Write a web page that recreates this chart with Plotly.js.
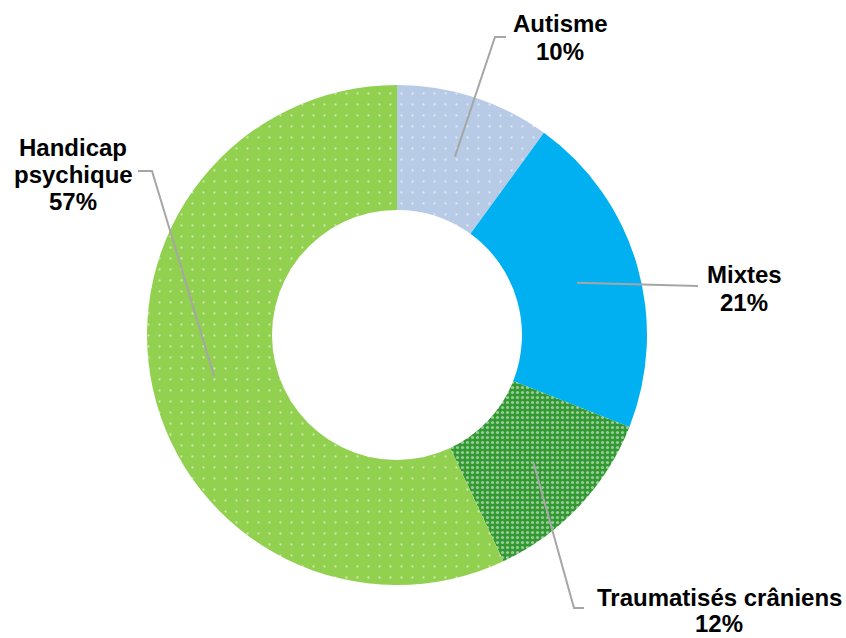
<!DOCTYPE html>
<html><head><meta charset="utf-8">
<script src="https://cdn.plot.ly/plotly-3.0.1.min.js"></script>
<style>html,body{margin:0;padding:0;background:#fff}#chart{width:846px;height:638px}</style>
</head><body><div id="chart"></div>
<script>
// Data
const categories = ["Autisme", "Mixtes", "Traumatisés crâniens", "Handicap psychique"];
const values = [10, 21, 12, 57];
const labelLines = [["Autisme", "10%"], ["Mixtes", "21%"], ["Traumatisés crâniens", "12%"], ["Handicap", "psychique", "57%"]];

// Styles / layout
const colors = ["#B7CBE6", "#00B0F0", "#339933", "#92D050"];
const W = 846, H = 638;
const cx = 397, cy = 335, R = 250;
// label placement (pixel): center x, first line y, line spacing
const labelPos = [
  {x: 560, y: 24, dy: 28},
  {x: 744, y: 274, dy: 28},
  {x: 719, y: 597, dy: 26},
  {x: 73, y: 147, dy: 27}
];
// leader elbow and end (pixel)
const leaders = [
  {ex: 495, ey: 37, tx: 506, ty: 37},
  {ex: 698, ey: 286, tx: 698, ty: 286},
  {ex: 574, ey: 608, tx: 584, ty: 608},
  {ex: 152, ey: 171, tx: 138, ty: 171}
];

const px = x => x / W, py = y => 1 - y / H;

const total = values.reduce((a, b) => a + b, 0);
const shapes = [], annotations = [];
let cum = 0;
values.forEach((v, i) => {
  const mid = (cum + v / 2) / total * 2 * Math.PI;
  cum += v;
  const sx = cx + 0.75 * R * Math.sin(mid);
  const sy = cy - 0.75 * R * Math.cos(mid);
  const L = leaders[i];
  shapes.push({
    type: "path", xref: "paper", yref: "paper",
    path: `M ${px(sx)},${py(sy)} L ${px(L.ex)},${py(L.ey)} L ${px(L.tx)},${py(L.ty)}`,
    line: {color: "#A6A6A6", width: 2}
  });
  labelLines[i].forEach((t, j) => {
    annotations.push({
      text: "<b>" + t + "</b>", xref: "paper", yref: "paper",
      x: px(labelPos[i].x), y: py(labelPos[i].y + j * labelPos[i].dy),
      xanchor: "center", yanchor: "middle", showarrow: false,
      font: {family: "Liberation Sans, Arial, sans-serif", size: 24, color: "#000000"}
    });
  });
});

const trace = {
  type: "pie",
  labels: categories,
  values: values,
  sort: false,
  direction: "clockwise",
  rotation: 0,
  hole: 0.5,
  textinfo: "none",
  hoverinfo: "label+percent",
  marker: {
    colors: colors,
    line: {width: 0},
    pattern: {
      shape: [".", "", ".", "."],
      fgcolor: ["#FFFFFF", "#FFFFFF", "#FFFFFF", "#FFFFFF"],
      size: [11, 11, 5, 11],
      solidity: [0.035, 0.035, 0.3, 0.035],
      fillmode: "overlay"
    }
  },
  domain: {x: [px(cx - R), px(cx + R)], y: [py(cy + R), py(cy - R)]}
};

Plotly.newPlot("chart", [trace], {
  width: W, height: H,
  margin: {l: 0, r: 0, t: 0, b: 0},
  showlegend: false,
  paper_bgcolor: "#ffffff",
  shapes: shapes,
  annotations: annotations
}, {displayModeBar: false, staticPlot: true});
</script></body></html>
